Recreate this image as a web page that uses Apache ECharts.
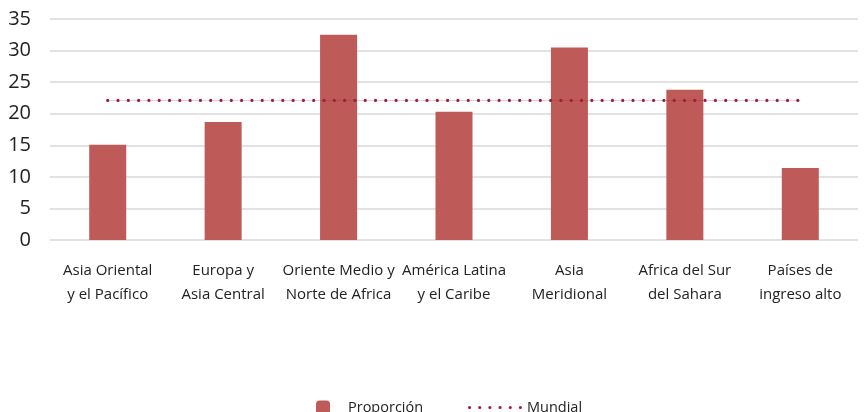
<!DOCTYPE html>
<html>
<head>
<meta charset="utf-8">
<script src="https://cdn.jsdelivr.net/npm/echarts@6/dist/echarts.min.js"></script>
<style>html,body{margin:0;padding:0;background:#fff}#c{width:864px;height:412px}</style>
</head>
<body>
<div id="c"></div>
<script>
const categories = [
  'Asia Oriental\ny el Pacífico',
  'Europa y\nAsia Central',
  'Oriente Medio y\nNorte de Africa',
  'América Latina\ny el Caribe',
  'Asia\nMeridional',
  'Africa del Sur\ndel Sahara',
  'Países de\ningreso alto'
];
const proporcion = [15.1, 18.7, 32.5, 20.3, 30.5, 23.8, 11.4];
const mundial = [22.1, 22.1, 22.1, 22.1, 22.1, 22.1, 22.1];
const yTicks = [0, 5, 10, 15, 20, 25, 30, 35];

const FONT = '"Open Sans", "Noto Sans", sans-serif';
const DOT_COLOR = '#9e1c3e';

// dotted legend icon: six small dots
let dotPath = 'path://';
for (let i = 0; i < 6; i++) {
  const cx = 1.6 + i * 10.2;
  dotPath += 'M' + (cx - 1.6) + ',1.6a1.6,1.6 0 1,0 3.2,0a1.6,1.6 0 1,0 -3.2,0z';
}

const chart = echarts.init(document.getElementById('c'), null, {renderer: 'canvas'});
chart.setOption({
  animation: false,
  textStyle: {fontFamily: FONT},
  grid: {left: 50, right: 6, top: 19, bottom: 172, containLabel: false},
  xAxis: {
    type: 'category',
    data: categories,
    axisLine: {show: false},
    axisTick: {show: false},
    axisLabel: {fontSize: 15, lineHeight: 24, color: '#222', margin: 19, interval: 0, fontFamily: FONT}
  },
  yAxis: {
    type: 'value',
    min: yTicks[0],
    max: yTicks[yTicks.length - 1],
    interval: 5,
    axisLine: {show: false},
    axisTick: {show: false},
    axisLabel: {fontSize: 20, color: '#222', margin: 19, fontFamily: FONT},
    splitLine: {lineStyle: {color: '#d9d9d9', width: 1.5}}
  },
  legend: [
    {
      data: ['Proporción'],
      left: 311, top: 395,
      itemWidth: 14, itemHeight: 14,
      textStyle: {fontSize: 14.5, color: '#222', fontFamily: FONT, padding: [0, 0, 0, 13]}
    },
    {
      data: [{name: 'Mundial', icon: dotPath, itemStyle: {color: DOT_COLOR}}],
      left: 463, top: 395,
      itemWidth: 54, itemHeight: 14,
      textStyle: {fontSize: 14.5, color: '#222', fontFamily: FONT}
    }
  ],
  series: [
    {
      name: 'Proporción',
      type: 'bar',
      data: proporcion,
      barWidth: 37,
      itemStyle: {color: '#be5b58'}
    },
    {
      name: 'MundialBg',
      type: 'line',
      data: mundial,
      symbol: 'none',
      silent: true,
      lineStyle: {color: 'rgba(158,28,62,0.22)', width: 1}
    },
    {
      name: 'Mundial',
      type: 'line',
      data: mundial,
      symbol: 'none',
      itemStyle: {color: DOT_COLOR},
      lineStyle: {color: DOT_COLOR, width: 3.2, type: [0, 10.3], cap: 'round'}
    }
  ]
});
</script>
</body>
</html>
